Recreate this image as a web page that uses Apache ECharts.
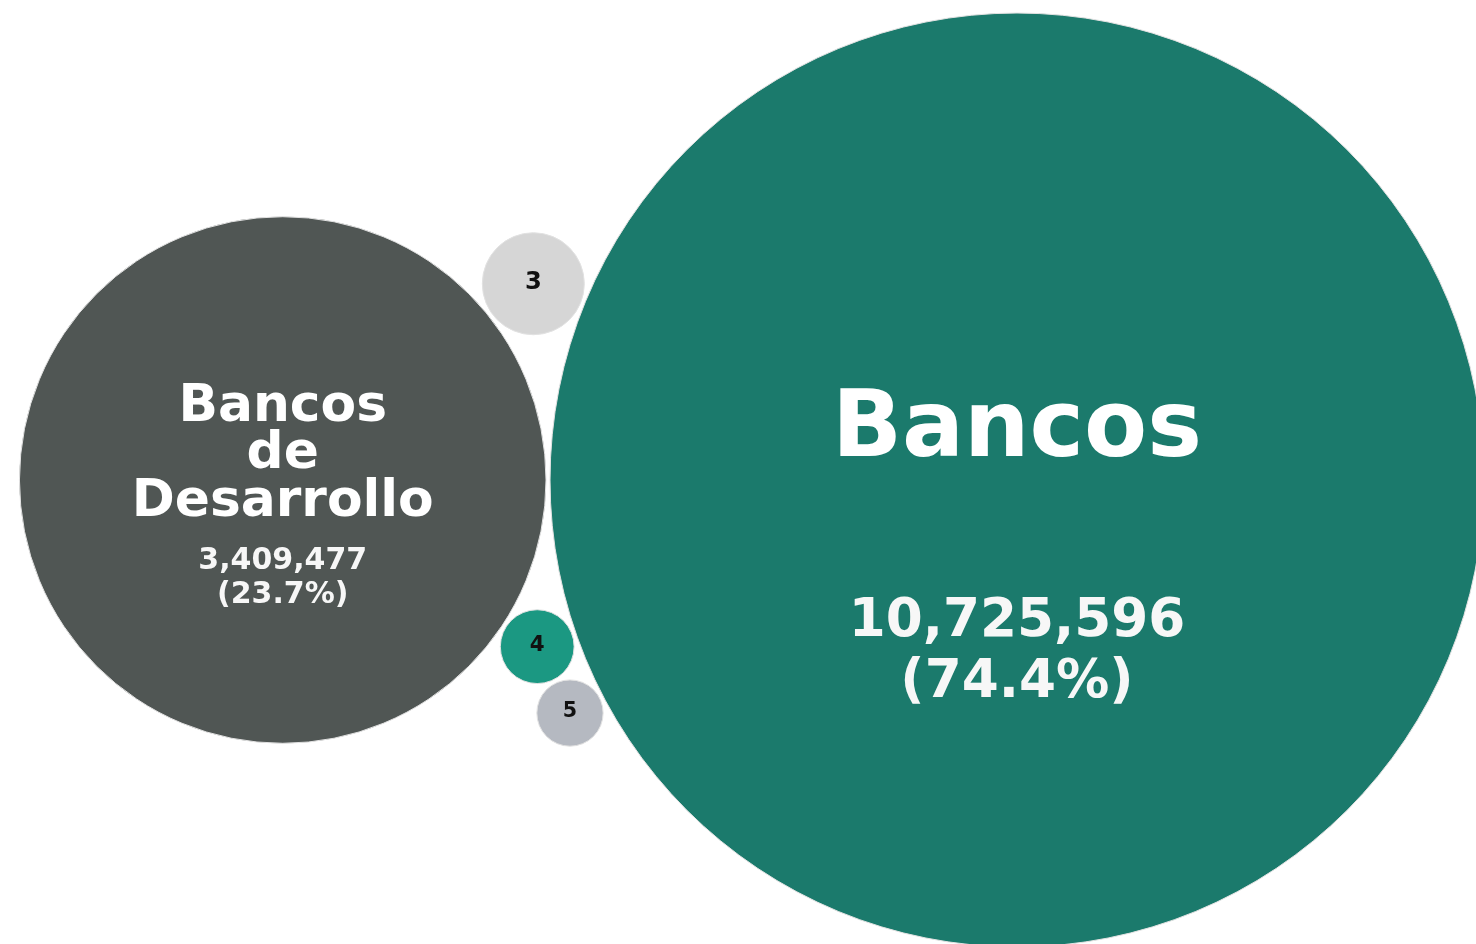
<!DOCTYPE html>
<html>
<head>
<meta charset="utf-8">
<script src="https://cdn.jsdelivr.net/npm/echarts@6/dist/echarts.min.js"></script>
<style>
  html, body { margin: 0; padding: 0; background: #fff; }
  #chartBubble { width: 1476px; height: 944px; }
</style>
</head>
<body>
<div id="chartBubble"></div>
<script>
  // datos
  const names = ['Bancos', 'Bancos de Desarrollo', '3', '4', '5']
  const values = [10725596, 3409477, 128000, 67000, 54000]
  const shares = [74.4, 23.7, null, null, null]
  const colors = ['#1b7a6c', '#505654', '#d6d6d6', '#1b9882', '#b5b9c1']

  const W = 1476, H = 944
  const K = 0.14259      // px por sqrt(valor)
  const PAD = 4
  const FONT = '"DejaVu Sans", Verdana, sans-serif'

  const radius = v => K * Math.sqrt(v)

  // circulo tangente a a y b
  function tangent(a, b, r, side) {
    const d1 = a.r + r + PAD, d2 = b.r + r + PAD
    const dx = b.x - a.x, dy = b.y - a.y, d = Math.hypot(dx, dy)
    const t = (d1 * d1 - d2 * d2 + d * d) / (2 * d)
    const h = Math.sqrt(Math.max(0, d1 * d1 - t * t))
    const ux = dx / d, uy = dy / d
    return { x: a.x + ux * t - side * uy * h, y: a.y + uy * t + side * ux * h, r: r }
  }

  // empaquetado simple
  const c0 = { x: 1017, y: 480, r: radius(values[0]) }
  const r1 = radius(values[1])
  const c1 = { x: c0.x - (c0.r + r1 + PAD), y: c0.y, r: r1 }
  const c2 = tangent(c0, c1, radius(values[2]), 1)
  const c3 = tangent(c0, c1, radius(values[3]), -1)
  const c4 = tangent(c0, c3, radius(values[4]), -1)
  const circles = [c0, c1, c2, c3, c4]

  const ctx = document.createElement('canvas').getContext('2d')
  function wrap(text, size, maxW) {
    ctx.font = 'bold ' + size + 'px ' + FONT
    const words = text.split(' ')
    const lines = []
    let cur = ''
    words.forEach(w => {
      const test = cur ? cur + ' ' + w : w
      if (cur && ctx.measureText(test).width > maxW) {
        lines.push(cur)
        cur = w
      } else {
        cur = test
      }
    })
    lines.push(cur)
    return lines.join('\n')
  }

  const nameData = circles.map((c, i) => {
    const big = c.r > 80
    const fs = big ? 0.197 * c.r : 14 + 0.2 * c.r
    return {
      value: [c.x, c.y, values[i]],
      name: names[i],
      itemStyle: { color: colors[i] },
      label: {
        show: true,
        position: 'inside',
        formatter: big ? wrap(names[i], fs, 1.1 * c.r) : names[i],
        fontSize: fs,
        lineHeight: fs * 0.92,
        fontWeight: 'bold',
        fontFamily: FONT,
        color: big ? '#ffffff' : '#111111',
        offset: [0, big ? -0.114 * c.r + 5 : -1]
      }
    }
  })

  const valueData = circles.map((c, i) => {
    const big = c.r > 80
    const fs = 0.114 * c.r
    return {
      value: [c.x, c.y, values[i]],
      label: {
        show: big,
        position: 'inside',
        formatter: values[i].toLocaleString('en-US') + '\n(' + (shares[i] != null ? shares[i].toFixed(1) : '') + '%)',
        fontSize: fs,
        lineHeight: fs * 1.15,
        fontWeight: 'bold',
        fontFamily: FONT,
        color: '#f7f7f7',
        offset: [0, 0.365 * c.r + 2]
      }
    }
  })

  const myChart = echarts.init(document.getElementById('chartBubble'))
  const option = {
    animation: false,
    backgroundColor: '#ffffff',
    grid: { left: 0, right: 0, top: 0, bottom: 0 },
    xAxis: { type: 'value', min: 0, max: W, show: false },
    yAxis: { type: 'value', min: 0, max: H, inverse: true, show: false },
    series: [{
      type: 'scatter',
      symbol: 'circle',
      symbolSize: d => 2 * radius(d[2]),
      itemStyle: { borderColor: '#e2e2e2', borderWidth: 1, opacity: 1 },
      emphasis: { disabled: true },
      data: nameData
    }, {
      type: 'scatter',
      symbol: 'circle',
      symbolSize: d => 2 * radius(d[2]),
      itemStyle: { color: 'rgba(0,0,0,0)', borderWidth: 0, opacity: 1 },
      emphasis: { disabled: true },
      silent: true,
      z: 3,
      data: valueData
    }]
  }
  myChart.setOption(option)
</script>
</body>
</html>
